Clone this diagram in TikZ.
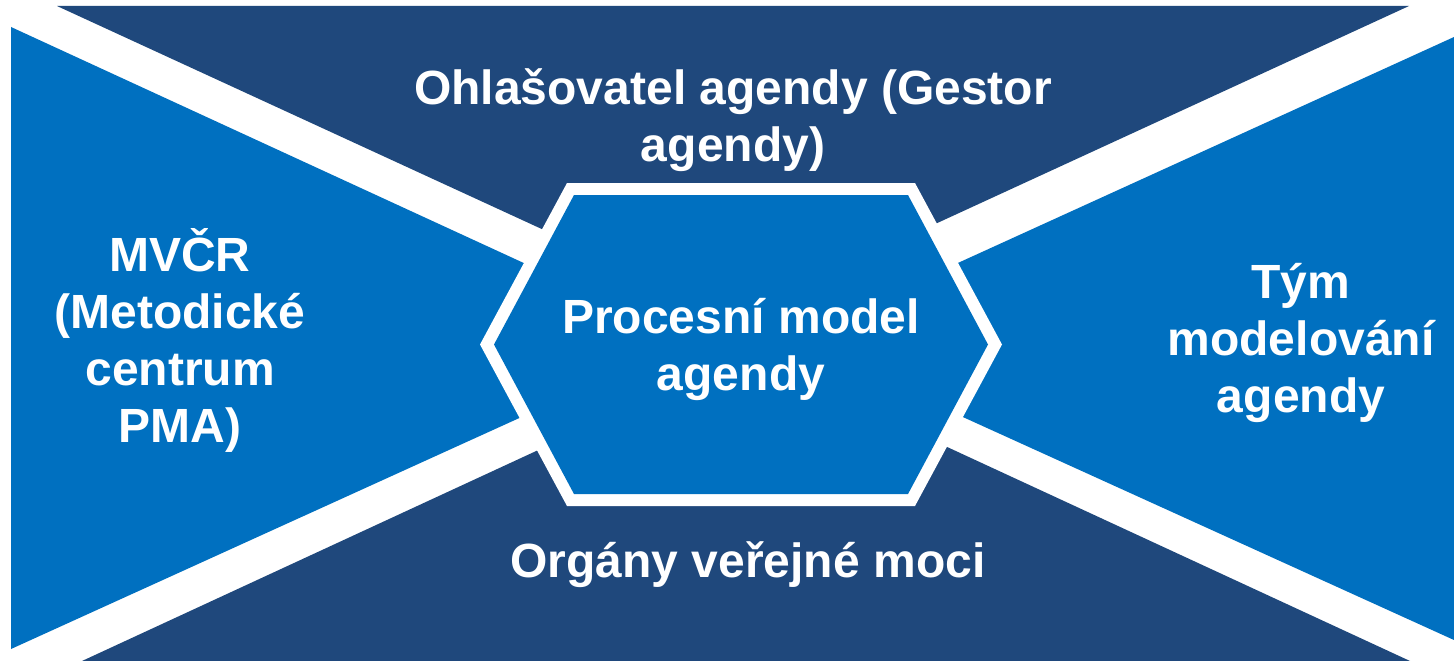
\documentclass[tikz,border=0pt]{standalone}
\usepackage{fontspec}
\setmainfont{Liberation Sans}
\definecolor{navy}{HTML}{1F487C}
\definecolor{midblue}{HTML}{0070C0}
\begin{document}
\begin{tikzpicture}[x=1pt,y=-1pt,
  lbl/.style={text=white,font=\fontsize{48}{57}\selectfont\bfseries,align=center,inner sep=0pt,anchor=north}]
\useasboundingbox[fill=white] (0,0) rectangle (1454,661);
% top navy triangle
\fill[navy] (57,6) -- (1409,6) -- (733,317) -- cycle;
% bottom navy triangle
\fill[navy] (82,661) -- (1410,661) -- (746,354) -- cycle;
% left blue triangle
\fill[midblue] (11,27) -- (11,649) -- (691,340) -- cycle;
% right blue triangle
\fill[midblue] (1454,37) -- (1454,640) -- (791,339) -- cycle;
% hexagon
\fill[white] (567,183) -- (915,183) -- (1002,344.5) -- (915,506) -- (567,506) -- (480,344.5) -- cycle;
\fill[midblue] (574,195) -- (908,195) -- (988,344.5) -- (908,494) -- (574,494) -- (494,344.5) -- cycle;
% labels
\node[lbl] (top) at (733,68) {Ohlašovatel agendy (Gestor\\agendy)};
\node[lbl] (left) at (180,228) {MVČR\\(Metodické\\centrum\\PMA)};
\node[lbl] (right) at (1301,263) {Tým\\modelování\\agendy};
\node[lbl] (center) at (741,298) {Procesní model\\agendy};
\node[lbl] (bottom) at (748,541) {Orgány veřejné moci};
\end{tikzpicture}
\end{document}
